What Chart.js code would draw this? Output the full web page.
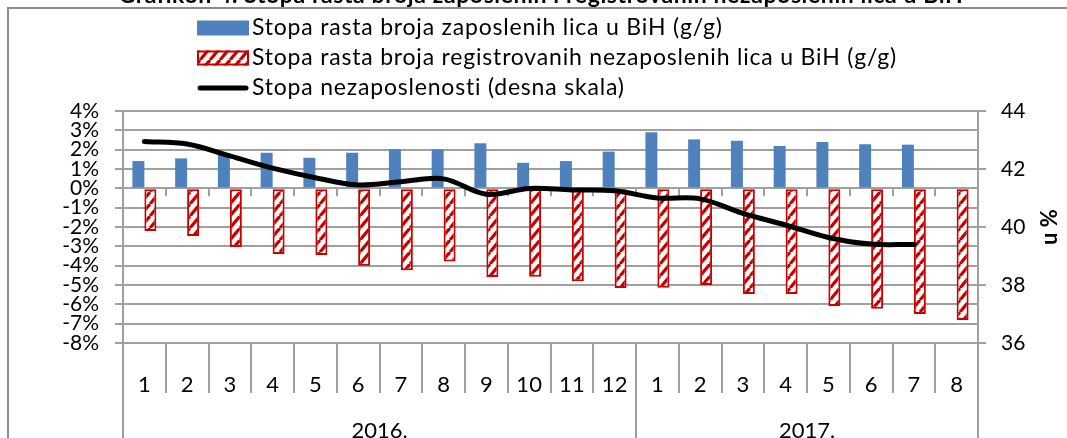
<!DOCTYPE html>
<html>
<head>
<meta charset="utf-8">
<script src="https://cdn.jsdelivr.net/npm/chart.js@4/dist/chart.umd.min.js"></script>
<style>
    html, body { margin: 0; padding: 0; background: #fff; }
    #area-grafico { width: 1067px; height: 438px; }
</style>
</head>
<body>
<div id="area-grafico"><canvas id="grafico" width="1067" height="438"></canvas></div>
<script>
const naslov = 'Grafikon 4. Stopa rasta broja zaposlenih i registrovanih nezaposlenih lica u BiH';

const meseci = ['1', '2', '3', '4', '5', '6', '7', '8', '9', '10', '11', '12',
                '1', '2', '3', '4', '5', '6', '7', '8'];
const godine = ['2016.', '2017.'];
const meseci_po_godini = [12, 8];

const naziv_zaposleni = 'Stopa rasta broja zaposlenih lica u BiH (g/g)';
const naziv_nezaposleni = 'Stopa rasta broja registrovanih nezaposlenih lica u BiH (g/g)';
const naziv_stopa = 'Stopa nezaposlenosti (desna skala)';

const zaposleni = [1.41, 1.55, 1.75, 1.84, 1.58, 1.84, 2.02, 2.02, 2.33, 1.32, 1.41, 1.90,
                   2.90, 2.53, 2.46, 2.19, 2.40, 2.28, 2.26, null];
const nezaposleni = [-2.21, -2.47, -3.04, -3.40, -3.45, -4.00, -4.24, -3.78, -4.59, -4.57, -4.80, -5.16,
                     -5.14, -5.00, -5.47, -5.47, -6.09, -6.23, -6.50, -6.81];
const stopa = [42.95, 42.86, 42.45, 42.03, 41.70, 41.45, 41.56, 41.66, 41.13, 41.33, 41.28, 41.25,
               41.00, 40.97, 40.47, 40.07, 39.64, 39.41, 39.40, null];

const oznake_lijevo = [4, 3, 2, 1, 0, -1, -2, -3, -4, -5, -6, -7, -8];
const oznake_desno = [44, 42, 40, 38, 36];
const naslov_desno = 'u %';

const plava = '#4F81BD';
const crvena = '#C80000';
const siva = '#A0A0A0';
const font_ime = 'Lato';

Chart.defaults.font.family = font_ime;
Chart.defaults.color = '#000';

const grafico = document.getElementById('grafico');
const ctx_glavni = grafico.getContext('2d');

function napravi_sraf() {
    const c = document.createElement('canvas');
    c.width = 10; c.height = 12;
    const g = c.getContext('2d');
    g.fillStyle = '#fff';
    g.fillRect(0, 0, 10, 12);
    g.strokeStyle = crvena;
    g.lineWidth = 3.2;
    for (let k = -1; k <= 1; k++) {
        g.beginPath();
        g.moveTo(k * 10, 12);
        g.lineTo(k * 10 + 10, 0);
        g.stroke();
    }
    return ctx_glavni.createPattern(c, 'repeat');
}
const sraf = napravi_sraf();

function linija(ctx, x1, y1, x2, y2) {
    ctx.beginPath();
    ctx.moveTo(x1, y1);
    ctx.lineTo(x2, y2);
    ctx.stroke();
}

const dodaci = {
    id: 'dodaci',
    beforeDatasetsDraw(chart) {
        const { ctx, scales: { x, y } } = chart;
        const y0 = y.getPixelForValue(0);
        const sirina = x.getPixelForValue(1) - x.getPixelForValue(0);
        ctx.save();
        ctx.strokeStyle = siva;
        ctx.lineWidth = 2;
        for (let i = 1; i < meseci.length; i++) {
            const xb = Math.round(x.getPixelForValue(i) - sirina / 2);
            linija(ctx, xb, y0, xb, y0 + 8);
        }
        ctx.restore();
    },
    afterDraw(chart) {
        const { ctx, scales: { x }, chartArea } = chart;
        const sirina = x.getPixelForValue(1) - x.getPixelForValue(0);
        ctx.save();

        // okvir
        ctx.strokeStyle = '#8C8C8C';
        ctx.lineWidth = 2;
        ctx.beginPath();
        ctx.moveTo(8, 440);
        ctx.lineTo(8, 8);
        ctx.lineTo(1070, 8);
        ctx.stroke();

        // naslov (odsjecen gore)
        ctx.fillStyle = '#000';
        ctx.font = 'bold 23px ' + font_ime;
        ctx.letterSpacing = '0.6px';
        ctx.textAlign = 'center';
        ctx.textBaseline = 'alphabetic';
        ctx.fillText(naslov, 541, 3);

        // legenda
        const lx = 197, lw = 52, lh = 15;
        const redovi = [28, 58, 88];
        ctx.fillStyle = plava;
        ctx.fillRect(lx, redovi[0] - lh / 2, lw, lh);
        ctx.fillStyle = sraf;
        ctx.fillRect(lx, redovi[1] - lh / 2, lw, lh);
        ctx.strokeStyle = crvena;
        ctx.lineWidth = 2;
        ctx.strokeRect(lx + 1, redovi[1] - lh / 2 + 1, lw - 2, lh - 2);
        ctx.strokeStyle = '#000';
        ctx.lineWidth = 5;
        ctx.lineCap = 'round';
        linija(ctx, lx + 3, redovi[2], lx + lw - 3, redovi[2]);
        ctx.lineCap = 'butt';
        ctx.fillStyle = '#000';
        ctx.font = '23px ' + font_ime;
        ctx.letterSpacing = '0.8px';
        ctx.textAlign = 'left';
        ctx.textBaseline = 'middle';
        [naziv_zaposleni, naziv_nezaposleni, naziv_stopa].forEach((t, i) => {
            ctx.fillText(t, 252, redovi[i]);
        });
        ctx.letterSpacing = '0px';

        // razdjelnici kategorija i godine
        ctx.strokeStyle = siva;
        ctx.lineWidth = 2;
        const granice_godina = [0];
        meseci_po_godini.forEach(n => granice_godina.push(granice_godina[granice_godina.length - 1] + n));
        for (let i = 0; i <= meseci.length; i++) {
            const xb = Math.round(x.getPixelForValue(i) - sirina / 2);
            const kraj = granice_godina.includes(i) ? 440 : chartArea.bottom + 50;
            linija(ctx, xb, chartArea.bottom, xb, kraj);
        }
        ctx.fillStyle = '#000';
        ctx.font = '22px ' + font_ime;
        ctx.textAlign = 'center';
        ctx.textBaseline = 'middle';
        godine.forEach((g, i) => {
            const a = x.getPixelForValue(granice_godina[i]) - sirina / 2;
            const b = x.getPixelForValue(granice_godina[i + 1] - 1) + sirina / 2;
            ctx.fillText(g, (a + b) / 2, 431);
        });

        // naslov desne skale
        ctx.font = 'bold 22px ' + font_ime;
        ctx.translate(1050, (chartArea.top + chartArea.bottom) / 2);
        ctx.rotate(-Math.PI / 2);
        ctx.fillText(naslov_desno, 0, 0);
        ctx.restore();
    }
};

const chart = new Chart(grafico, {
    data: {
        labels: meseci,
        datasets: [
            {
                type: 'line',
                label: naziv_stopa,
                data: stopa,
                yAxisID: 'y1',
                borderColor: '#000',
                borderWidth: 5,
                borderCapStyle: 'round',
                pointRadius: 0,
                tension: 0.35,
                order: 0
            },
            {
                type: 'bar',
                label: naziv_zaposleni,
                data: zaposleni,
                yAxisID: 'y',
                backgroundColor: plava,
                borderWidth: 0,
                categoryPercentage: 0.56,
                barPercentage: 1,
                order: 1
            },
            {
                type: 'bar',
                label: naziv_nezaposleni,
                data: nezaposleni,
                yAxisID: 'y',
                backgroundColor: sraf,
                borderColor: crvena,
                borderWidth: 2,
                borderSkipped: false,
                categoryPercentage: 0.56,
                barPercentage: 1,
                order: 1
            }
        ]
    },
    options: {
        responsive: false,
        animation: false,
        layout: { padding: { top: 111, left: 0, right: 0, bottom: 0 } },
        plugins: {
            legend: { display: false },
            tooltip: { enabled: false }
        },
        scales: {
            x: {
                grid: { display: false },
                border: { display: false },
                ticks: { font: { size: 22 }, padding: 21, maxRotation: 0, autoSkip: false },
                afterFit: s => { s.height = 95; }
            },
            y: {
                position: 'left',
                min: -8,
                max: 4,
                afterBuildTicks: s => { s.ticks = oznake_lijevo.map(v => ({ value: v })); },
                ticks: { font: { size: 21 }, padding: 16, autoSkip: false, callback: v => v + '%' },
                grid: { color: siva, lineWidth: 2, tickLength: 8 },
                border: { color: siva, width: 2 },
                afterFit: s => { s.width = 123; }
            },
            y1: {
                position: 'right',
                min: 36,
                max: 44,
                afterBuildTicks: s => { s.ticks = oznake_desno.map(v => ({ value: v })); },
                ticks: { font: { size: 21 }, padding: 15, autoSkip: false },
                grid: { drawOnChartArea: false, color: siva, lineWidth: 2, tickLength: 8 },
                border: { color: siva, width: 2 },
                afterFit: s => { s.width = 89; }
            }
        }
    },
    plugins: [dodaci]
});
</script>
</body>
</html>
